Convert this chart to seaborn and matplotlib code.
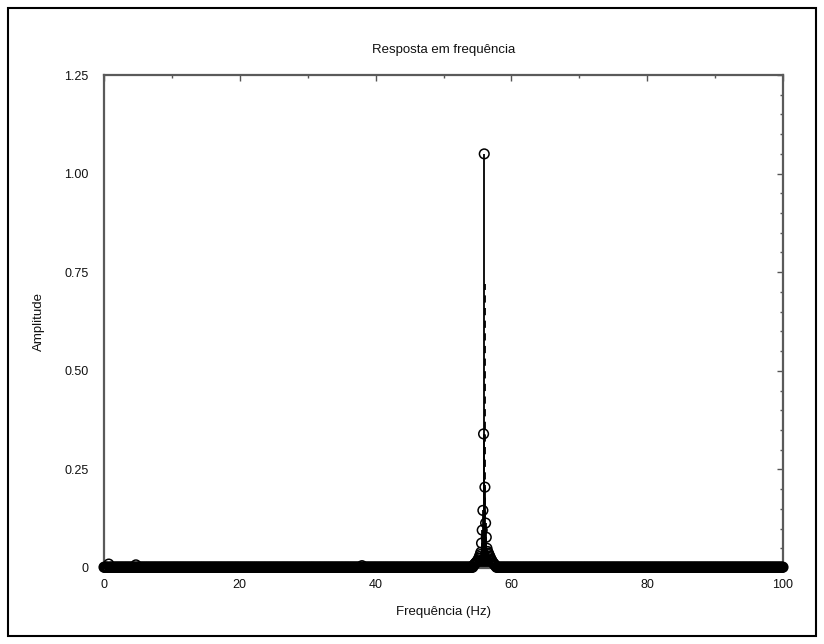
import numpy as np
import pandas as pd
import matplotlib
matplotlib.use("Agg")
import matplotlib.pyplot as plt
from matplotlib.patches import Rectangle
from matplotlib.ticker import MultipleLocator, FuncFormatter
import seaborn as sns

# ---------------- data ----------------
title = "Resposta em frequência"
xlabel = "Frequência (Hz)"
ylabel = "Amplitude"

# FFT bin grid (0.1 Hz resolution) and the noise floor
freq_min, freq_max, freq_step = 0.0, 100.0, 0.1
noise_floor = 0.002

# main resonance and its leakage bins
peak_freqs = [56.0, 55.9, 56.1, 55.8, 56.2, 55.7, 56.3, 55.6, 56.4]
peak_amps = [1.05, 0.34, 0.205, 0.146, 0.114, 0.096, 0.078, 0.063, 0.050]

# low mound around the resonance
mound_freqs = [54.4, 54.5, 54.6, 54.7, 54.8, 54.9, 55.0, 55.1, 55.2, 55.3,
               55.4, 55.5, 56.5, 56.6, 56.7, 56.8, 56.9, 57.0, 57.1, 57.2,
               57.3, 57.4, 57.5, 57.6, 57.7]
mound_amps = [0.006, 0.008, 0.010, 0.012, 0.014, 0.016, 0.018, 0.021, 0.025, 0.029,
              0.034, 0.040, 0.042, 0.038, 0.034, 0.030, 0.026, 0.022, 0.019, 0.016,
              0.013, 0.011, 0.009, 0.007, 0.005]

# small spurious bumps along the floor
bump_freqs = [0.7, 4.7, 38.0]
bump_amps = [0.010, 0.008, 0.006]

# stem without visible marker beside the main line
ghost_freqs = [56.05]
ghost_amps = [0.72]

x_ticks = [0, 20, 40, 60, 80, 100]
y_ticks = [0, 0.25, 0.50, 0.75, 1.00, 1.25]

# ---------------- build table ----------------
freqs = np.round(np.arange(freq_min, freq_max + freq_step / 2, freq_step), 1)
amps = np.full(freqs.shape, noise_floor)
for f, a in list(zip(mound_freqs, mound_amps)) + list(zip(bump_freqs, bump_amps)) + list(zip(peak_freqs, peak_amps)):
    idx = int(np.argmin(np.abs(freqs - f)))
    amps[idx] = a
df = pd.DataFrame({"freq": freqs, "amp": amps})

# ---------------- plot ----------------
sns.set_theme(style="white")
plt.rcParams["font.family"] = ["Liberation Sans", "DejaVu Sans"]

W, H = 824, 644
fig = plt.figure(figsize=(W / 100, H / 100), dpi=100)
ax = fig.add_axes([104 / W, 1 - 568 / H, (783 - 104) / W, (568 - 75) / H])

# stems
ax.vlines(df["freq"], 0, df["amp"], color="black", lw=1.3, zorder=2)
ax.vlines(ghost_freqs, 0, ghost_amps, color="black", lw=1.3, linestyles=(0, (4, 3)), zorder=2)
# markers
sns.scatterplot(data=df, x="freq", y="amp", ax=ax, marker="o", s=48,
                facecolor="none", edgecolor="black", linewidth=1.1, zorder=3,
                legend=False, clip_on=False)

ax.set_xlim(0, 100)
ax.set_ylim(0, 1.25)
ax.set_xticks(x_ticks)
ax.set_yticks(y_ticks)
ax.xaxis.set_minor_locator(MultipleLocator(10))
ax.yaxis.set_minor_locator(MultipleLocator(0.05))
ax.yaxis.set_major_formatter(FuncFormatter(lambda v, p: "0" if v == 0 else f"{v:.2f}"))
ax.tick_params(axis="both", which="both", direction="in", top=True, right=True,
               colors="#555555", labelcolor="#111111", labelsize=9)
ax.tick_params(which="major", length=4, width=1.0, pad=8)
ax.tick_params(which="minor", length=2.5, width=1.0)
ax.tick_params(axis="y", which="major", pad=11)

for s in ax.spines.values():
    s.set_color("#5a5a5a")
    s.set_linewidth(1.6)

ax.set_xlabel(xlabel, fontsize=9.5, labelpad=11, color="#111111")
ax.set_ylabel(ylabel, fontsize=9.5, labelpad=14, color="#111111")
ax.set_title(title, fontsize=9.5, pad=16, color="#111111")

# outer frame of the figure
fig.add_artist(Rectangle((8 / W, 8 / H), (816 - 8) / W, (636 - 8) / H,
                         transform=fig.transFigure, fill=False, lw=1.5, ec="black"))

fig.savefig("out.png", dpi=100)
